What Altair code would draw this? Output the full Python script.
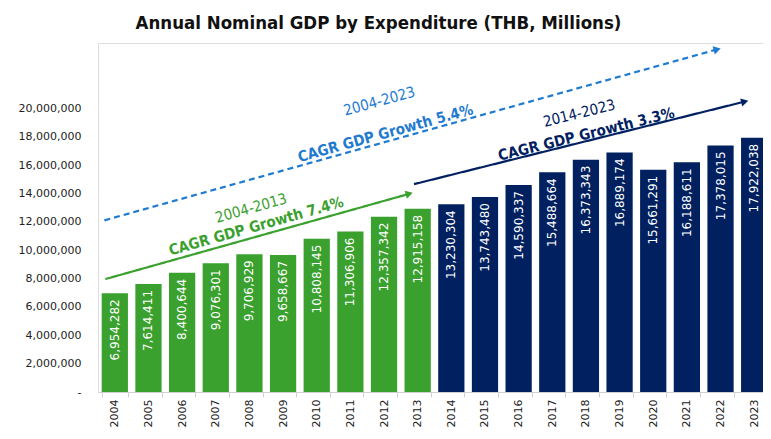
import altair as alt
import pandas as pd

# ---- data ----
years = [str(y) for y in range(2004, 2024)]
gdp = [6954282, 7614411, 8400644, 9076301, 9706929, 9658667, 10808145, 11306906,
       12357342, 12915158, 13230304, 13743480, 14590337, 15488664, 16373343,
       16889174, 15661291, 16188611, 17378015, 17922038]
period = ["2004-2013"] * 10 + ["2014-2023"] * 10

GREEN = "#3aa02e"
NAVY = "#002060"
BLUE = "#1f7bd0"

# trend arrows (x in bar-index units, y in THB)
arrow_names = ["2004-2023", "2004-2013", "2014-2023"]
arrow_x0 = [-0.31, -0.28, 8.89]
arrow_y0 = [12.1e6, 7.96e6, 14.65e6]
arrow_x1 = [17.9, 8.75, 18.72]
arrow_y1 = [24.15e6, 13.97e6, 20.47e6]
arrow_colors = [BLUE, GREEN, NAVY]
arrow_dash = [[6, 4], [1, 0], [1, 0]]
arrow_angle = [344.4, 344.2, 346.1]

# annotation texts
label_top = ["2004-2023", "2004-2013", "2014-2023"]
label_bottom = ["CAGR GDP Growth 5.4%", "CAGR GDP Growth 7.4%", "CAGR GDP Growth 3.3%"]
top_x = [7.86, 4.05, 13.8]
top_y = [20.5e6, 12.96e6, 19.65e6]
bottom_x = [8.04, 4.2, 14.01]
bottom_y = [18.24e6, 11.69e6, 18.17e6]
label_angle = [344.5, 344.2, 346.1]

# ---- tables ----
bars_df = pd.DataFrame({
    "year": years, "gdp": gdp, "period": period,
    "color": [GREEN if p == "2004-2013" else NAVY for p in period],
})
arrows_df = pd.DataFrame({
    "name": arrow_names, "x0": arrow_x0, "y0": arrow_y0, "x1": arrow_x1,
    "y1": arrow_y1, "color": arrow_colors, "angle": arrow_angle,
})
labels_df = pd.DataFrame({
    "top": label_top, "bottom": label_bottom, "tx": top_x, "ty": top_y,
    "bx": bottom_x, "by": bottom_y, "color": arrow_colors, "angle": label_angle,
})

FONT = "DejaVu Sans"
FONT_C = "DejaVu Sans Condensed"

y_scale = alt.Scale(domain=[0, 24600000], nice=False)
y_axis = alt.Axis(values=list(range(0, 20000001, 2000000)), grid=False,
                  domain=False, ticks=False, labelFont=FONT, labelFontSize=11,
                  labelColor="#222", labelPadding=17, labelOverlap=False,
                  labelExpr="datum.value == 0 ? '-\u00a0\u00a0\u00a0\u00a0\u00a0' : format(datum.value, ',')")
x_band = alt.X("year:N", title=None,
               scale=alt.Scale(paddingInner=0.22, paddingOuter=0.11),
               axis=alt.Axis(labelAngle=270, labelFont=FONT, labelFontSize=11,
                             labelColor="#222", labelPadding=2, labelAlign="right",
                             labelBaseline="middle", tickBand="extent",
                             domainColor="#d0d0d0", tickColor="#d0d0d0", tickSize=5,
                             ticks=True, grid=False))


def yq(field):
    return alt.Y(field, title=None, scale=y_scale, axis=y_axis)


bars = alt.Chart(bars_df).mark_bar().encode(
    x=x_band, y=yq("gdp:Q"), color=alt.Color("color:N", scale=None),
)
bar_text = alt.Chart(bars_df).mark_text(
    angle=270, align="right", baseline="middle", dx=-6, color="white",
    font=FONT, fontSize=12,
).encode(x=x_band, y=yq("gdp:Q"), text=alt.Text("gdp:Q", format=","))

base_layer = alt.layer(bars, bar_text)

xq = alt.Scale(domain=[-0.5, 19.5], nice=False, zero=False)

arrow_layers = []
for i in range(3):
    d = arrows_df.iloc[[i]]
    arrow_layers.append(
        alt.Chart(d).mark_rule(strokeWidth=2.2, strokeDash=arrow_dash[i], color=arrow_colors[i]).encode(
            x=alt.X("x0:Q", scale=xq, axis=None), x2="x1:Q",
            y=yq("y0:Q"), y2="y1:Q",
        )
    )
heads = alt.Chart(arrows_df).mark_point(shape="triangle-right", filled=True, size=70, opacity=1).encode(
    x=alt.X("x1:Q", scale=xq, axis=None), y=yq("y1:Q"),
    color=alt.Color("color:N", scale=None), angle=alt.Angle("angle:Q", scale=None),
)
text_top = alt.Chart(labels_df).mark_text(font=FONT_C, fontSize=15, fontWeight="normal",
                                          align="center", baseline="middle").encode(
    x=alt.X("tx:Q", scale=xq, axis=None), y=yq("ty:Q"),
    text="top:N", color=alt.Color("color:N", scale=None), angle=alt.Angle("angle:Q", scale=None),
)
text_bottom = alt.Chart(labels_df).mark_text(font=FONT_C, fontSize=15, fontWeight="bold",
                                             align="center", baseline="middle").encode(
    x=alt.X("bx:Q", scale=xq, axis=None), y=yq("by:Q"),
    text="bottom:N", color=alt.Color("color:N", scale=None), angle=alt.Angle("angle:Q", scale=None),
)
annot = alt.layer(*arrow_layers, heads, text_top, text_bottom)

chart = alt.layer(base_layer, annot).resolve_scale(x="independent").properties(
    width=673, height=349,
    padding={"left": 10, "top": 5, "right": -8, "bottom": 4},
    title=alt.TitleParams("Annual Nominal GDP by Expenditure (THB, Millions)",
                          font=FONT_C, fontSize=18.5, fontWeight="bold", color="#111",
                          anchor="middle", frame="bounds", dx=-16, offset=11),
).configure_view(stroke=None).configure_axisY(labelOverlap=False).configure(background="white")

chart.save("out.html", embed_options={"renderer": "svg", "actions": False})
